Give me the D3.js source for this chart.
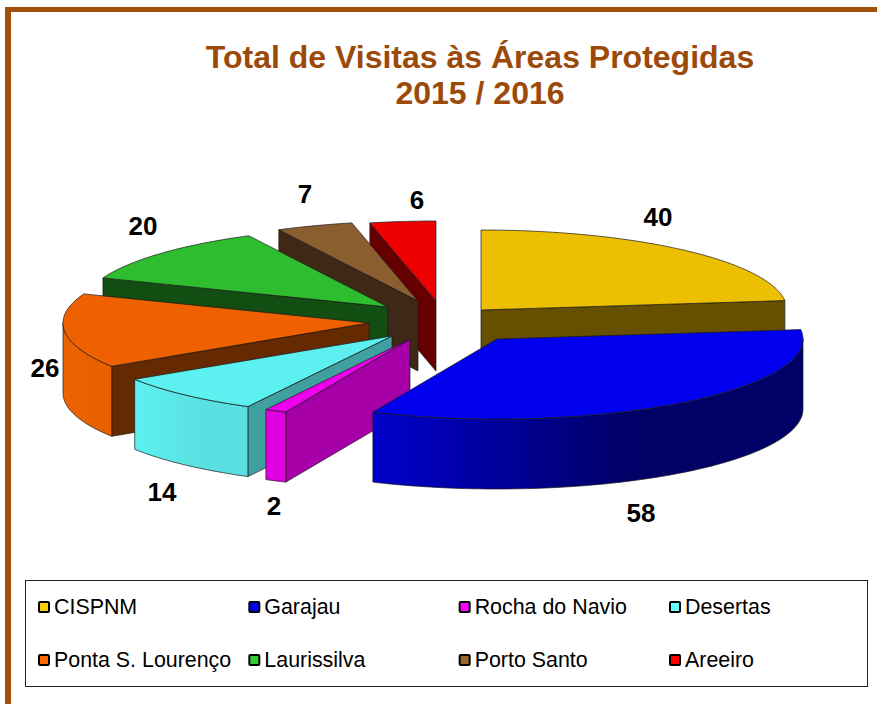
<!DOCTYPE html>
<html>
<head>
<meta charset="utf-8">
<script src="https://d3js.org/d3.v7.min.js"></script>
<style>
html, body { margin: 0; padding: 0; background: white; overflow: hidden; }
text { font-family: "Liberation Sans", Arial, sans-serif; }
</style>
</head>
<body>
<script>
//CHART VALUES
var categories = ["CISPNM", "Garajau", "Rocha do Navio", "Desertas", "Ponta S. Lourenço", "Laurissilva", "Porto Santo", "Areeiro"];
var visits = [40, 58, 2, 14, 26, 20, 7, 6];
var titleLines = ["Total de Visitas às Áreas Protegidas", "2015 / 2016"];

//COLOURS
var legendColors = ["#ffcc00", "#0000ff", "#ff00ff", "#66ffff", "#ff6600", "#33cc33", "#996633", "#ff0000"];
var topColors = ["#ecbf00", "#0000ee", "#ee00ee", "#5cf0f0", "#ee6000", "#2ebd2e", "#8b5e2f", "#ee0000"];
var faceColors = ["#665000", "#000066", "#a800a8", "#40a0a0", "#662a00", "#124d12", "#3f2815", "#660000"];
var outerFrom = ["#c8a000", "#0000cc", "#e000e0", "#5cf0f0", "#ec6400", "#28a828", "#7a5228", "#d00000"];
var outerTo = ["#c8a000", "#000066", "#e000e0", "#5ae0e0", "#e86000", "#28a828", "#7a5228", "#d00000"];

//PIE LAYOUT
var width = 877, height = 704;
var rx = 306, ry = 80, depth = 70;
var centerX = 430, centerY = 320;
//pull of every slice away from the pie centre, along screen x / y
var pullX = [51, 67, -20, -38, -61, -42, -12, 6];
var pullY = [-10, 19, 19, 16, 3, -13, -19, -19];
//back to front
var drawOrder = [7, 6, 5, 4, 3, 2, 0, 1];
//label anchors, same order as categories
var labelX = [658, 641, 274, 162, 45, 143, 305, 417];
var labelY = [217, 513, 506, 492, 368, 226, 194, 200];

var svg = d3.select("body").append("svg")
	.attr("width", width)
	.attr("height", height);

var defs = svg.append("defs");

//FRAME
var frameColor = "#a0500a";
svg.append("rect").attr("x", 5).attr("y", 7).attr("width", width - 5).attr("height", 5).attr("fill", frameColor);
svg.append("rect").attr("x", 5).attr("y", 7).attr("width", 6).attr("height", height - 7).attr("fill", frameColor);

//TITLE
svg.selectAll(".title").data(titleLines).enter().append("text")
	.attr("class", "title")
	.attr("x", 480)
	.attr("y", function(d, i) { return 68 + i * 36; })
	.attr("text-anchor", "middle")
	.attr("font-size", 32)
	.attr("font-weight", "bold")
	.attr("fill", "#9c4a0a")
	.text(function(d) { return d; });

//SLICE ANGLES - clockwise from 12 o'clock
var pie = d3.pie().sort(null);
var arcs = pie(visits);

var xScale = d3.scaleLinear().domain([-1, 1]).range([-rx, rx]);
var yScale = d3.scaleLinear().domain([-1, 1]).range([ry, -ry]);

//point on the rim of slice i, lifted by h pixels down
function rim(i, angle, h) {
	return [
		centerX + pullX[i] + xScale(Math.sin(angle)),
		centerY + pullY[i] + yScale(Math.cos(angle)) + h
	];
}

function apex(i, h) {
	return [centerX + pullX[i], centerY + pullY[i] + h];
}

function rimPoints(i, a0, a1, h) {
	var n = Math.max(2, Math.ceil((a1 - a0) / 0.02));
	return d3.range(n + 1).map(function(k) {
		return rim(i, a0 + (a1 - a0) * k / n, h);
	});
}

var line = d3.line();

function closed(points) {
	return line(points) + "Z";
}

var edge = "#1a1a1a";
var slices = svg.append("g");

drawOrder.forEach(function(i) {
	var d = arcs[i];
	var g = slices.append("g");
	var a0 = d.startAngle, a1 = d.endAngle;

	//flat wall on the start side, seen from the left half only
	if (a0 > Math.PI) {
		g.append("path")
			.attr("d", closed([apex(i, 0), rim(i, a0, 0), rim(i, a0, depth), apex(i, depth)]))
			.attr("fill", faceColors[i]).attr("stroke", edge).attr("stroke-width", 0.7);
	}
	//flat wall on the end side, seen from the right half only
	if (a1 < Math.PI) {
		g.append("path")
			.attr("d", closed([apex(i, 0), rim(i, a1, 0), rim(i, a1, depth), apex(i, depth)]))
			.attr("fill", faceColors[i]).attr("stroke", edge).attr("stroke-width", 0.7);
	}
	//outer curved wall, only the front half of the ellipse
	var w0 = Math.max(a0, Math.PI / 2), w1 = Math.min(a1, Math.PI * 1.5);
	if (w1 > w0) {
		//the rim runs right to left here, the gradient left to right
		var grad = defs.append("linearGradient").attr("id", "wall" + i);
		grad.append("stop").attr("offset", "0%").attr("stop-color", outerFrom[i]);
		grad.append("stop").attr("offset", "60%").attr("stop-color", outerTo[i]);
		grad.append("stop").attr("offset", "100%").attr("stop-color", outerTo[i]);
		g.append("path")
			.attr("d", closed(rimPoints(i, w0, w1, 0).concat(rimPoints(i, w0, w1, depth).reverse())))
			.attr("fill", "url(#wall" + i + ")").attr("stroke", edge).attr("stroke-width", 0.7);
	}
	//top
	g.append("path")
		.attr("d", closed([apex(i, 0)].concat(rimPoints(i, a0, a1, 0))))
		.attr("fill", topColors[i]).attr("stroke", edge).attr("stroke-width", 0.7);
});

//DATA LABELS
svg.selectAll(".value").data(visits).enter().append("text")
	.attr("class", "value")
	.attr("x", function(d, i) { return labelX[i]; })
	.attr("y", function(d, i) { return labelY[i]; })
	.attr("dy", "0.36em")
	.attr("text-anchor", "middle")
	.attr("font-size", 26)
	.attr("font-weight", "bold")
	.attr("fill", "black")
	.text(function(d) { return d; });

//LEGEND
svg.append("rect")
	.attr("x", 25.5).attr("y", 580.5)
	.attr("width", 842).attr("height", 106)
	.attr("fill", "white").attr("stroke", "#222").attr("stroke-width", 1);

var colX = d3.scalePoint().domain(d3.range(4)).range([38, 669]);
var rowY = d3.scalePoint().domain(d3.range(2)).range([607, 660]);

var legend = svg.selectAll(".legend").data(categories).enter().append("g")
	.attr("class", "legend")
	.attr("transform", function(d, i) { return "translate(" + colX(i % 4) + "," + rowY(Math.floor(i / 4)) + ")"; });

legend.append("rect")
	.attr("x", 1).attr("y", -5)
	.attr("width", 10).attr("height", 10)
	.attr("rx", 1)
	.attr("fill", function(d, i) { return legendColors[i]; })
	.attr("stroke", "black").attr("stroke-width", 2);

legend.append("text")
	.attr("x", 16)
	.attr("y", -1)
	.attr("dy", "0.36em")
	.attr("font-size", 21.4)
	.attr("fill", "black")
	.text(function(d) { return d; });
</script>
</body>
</html>
